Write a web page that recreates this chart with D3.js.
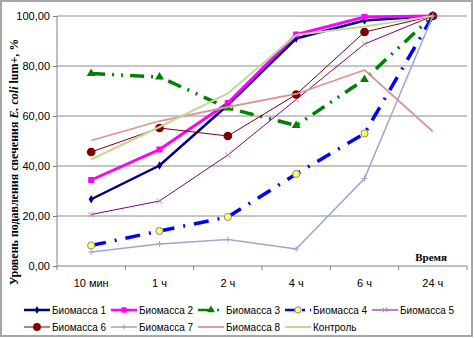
<!DOCTYPE html>
<html>
<head>
<meta charset="utf-8">
<script src="https://cdn.jsdelivr.net/npm/d3@7"></script>
<style>
  body { margin: 0; background: #fff; }
  svg { display: block; }
</style>
</head>
<body>
<div id="chart"></div>
<script>
// categories and series
var categories = ["10 мин", "1 ч", "2 ч", "4 ч", "6 ч", "24 ч"];
var yTicks = [0, 20, 40, 60, 80, 100];

var bio1 = [26.7, 40.2, 64.4, 91.0, 98.2, 100];
var bio2 = [34.4, 46.6, 65.2, 92.6, 99.6, 100];
var bio3 = [77.0, 75.6, 63.2, 56.2, 74.6, 100];
var bio4 = [8.2, 14.0, 19.6, 36.8, 53.0, 100];
var bio5 = [20.6, 26.0, 44.4, 66.6, 88.8, 100];
var bio6 = [45.6, 55.2, 52.0, 68.6, 93.6, 100];
var bio7 = [5.6, 8.8, 10.6, 6.8, 35.0, 100];
var bio8 = [50.2, 58.0, 63.6, 68.8, 78.4, 53.8];
var control = [42.6, 55.6, 69.0, 92.4, 95.8, 100];

var seriesNames = ["Биомасса 1", "Биомасса 2", "Биомасса 3", "Биомасса 4", "Биомасса 5",
                   "Биомасса 6", "Биомасса 7", "Биомасса 8", "Контроль"];

var W = 474, H = 338;
var svg = d3.select("#chart").append("svg")
    .attr("width", W)
    .attr("height", H);

// outer frame
svg.append("rect")
    .attr("x", 1).attr("y", 1)
    .attr("width", W - 3).attr("height", H - 3)
    .attr("fill", "#fff")
    .attr("stroke", "#a6a6a6")
    .attr("stroke-width", 2);

var plot = {left: 57, right: 467, top: 16, bottom: 266};

var x = d3.scaleBand().domain(categories).range([plot.left, plot.right]).padding(0);
var y = d3.scaleLinear().domain([0, 100]).range([plot.bottom, plot.top]);
function cx(c) { return x(c) + x.bandwidth() / 2; }

// gridlines
svg.append("g")
    .selectAll("line")
    .data(yTicks.filter(function(d){ return d > 0; }))
    .enter().append("line")
    .attr("x1", plot.left).attr("x2", plot.right)
    .attr("y1", function(d){ return y(d); })
    .attr("y2", function(d){ return y(d); })
    .attr("stroke", "#8c8c8c")
    .attr("stroke-width", 1);

var fmt = function(d) { return d3.format(".2f")(d).replace(".", ","); };

var yAxis = d3.axisLeft(y).tickValues(yTicks).tickFormat(fmt).tickSize(4).tickPadding(3);
var gy = svg.append("g")
    .attr("transform", "translate(" + plot.left + ",0)")
    .call(yAxis);
gy.select(".domain").attr("stroke", "#808080").attr("d", "M0," + plot.top + "V" + plot.bottom);
gy.selectAll(".tick line").attr("stroke", "#808080");
gy.selectAll("text").attr("font-family", "Liberation Sans, Arial, sans-serif").attr("font-size", 11).attr("fill", "#000");

// x axis: ticks between categories
var gx = svg.append("g")
    .attr("transform", "translate(0," + plot.bottom + ")");
gx.append("line")
    .attr("x1", plot.left).attr("x2", plot.right)
    .attr("stroke", "#808080");
var bounds = categories.map(function(c){ return x(c); }).concat([plot.right]);
gx.selectAll(".tk").data(bounds).enter().append("line")
    .attr("class", "tk")
    .attr("x1", function(d){ return d; }).attr("x2", function(d){ return d; })
    .attr("y1", 0).attr("y2", 4)
    .attr("stroke", "#808080");
gx.selectAll(".lab").data(categories).enter().append("text")
    .attr("class", "lab")
    .attr("x", function(d){ return cx(d); })
    .attr("y", 21)
    .attr("text-anchor", "middle")
    .attr("font-family", "Liberation Sans, Arial, sans-serif")
    .attr("font-size", 11)
    .text(function(d){ return d; });

// axis titles
svg.append("text")
    .attr("x", 447).attr("y", 261)
    .attr("text-anchor", "end")
    .attr("font-family", "Liberation Serif, Times New Roman, serif")
    .attr("font-weight", "bold")
    .attr("font-size", 11)
    .text("Время");

var yt = svg.append("text")
    .attr("transform", "translate(18,162) rotate(-90)")
    .attr("text-anchor", "middle")
    .attr("font-family", "Liberation Serif, Times New Roman, serif")
    .attr("font-weight", "bold")
    .attr("font-size", 12);
yt.append("tspan").text("Уровень подавления свечения ");
yt.append("tspan").attr("font-style", "italic").text("E. coli");
yt.append("tspan").text(" lum+, %");

// marker shapes
var crossX = { draw: function(ctx, size) { var r = Math.sqrt(size) / 2;
    ctx.moveTo(-r, -r); ctx.lineTo(r, r); ctx.moveTo(r, -r); ctx.lineTo(-r, r); } };
var plus = { draw: function(ctx, size) { var r = Math.sqrt(size) / 2;
    ctx.moveTo(-r, 0); ctx.lineTo(r, 0); ctx.moveTo(0, -r); ctx.lineTo(0, r); } };

var styles = [
  {data: bio1, color: "#000080", width: 2.5, dash: null, sym: d3.symbolDiamond, size: 22, fill: "#000080", stroke: "none"},
  {data: bio2, color: "#ff00ff", width: 3, dash: null, sym: d3.symbolSquare, size: 36, fill: "#ff00ff", stroke: "none"},
  {data: bio3, color: "#008000", width: 3.5, dash: "14,7,2,7,2,7", sym: d3.symbolTriangle, size: 34, fill: "#008000", stroke: "none"},
  {data: bio4, color: "#0000ff", width: 3.5, dash: "15,9,2,9", sym: d3.symbolCircle, size: 40, fill: "#ffff66", stroke: "#888888"},
  {data: bio5, color: "#800080", width: 1, dash: null, sym: crossX, size: 30, fill: "none", stroke: "#cc77cc"},
  {data: bio6, color: "#800000", width: 1, dash: null, sym: d3.symbolCircle, size: 60, fill: "#800000", stroke: "none"},
  {data: bio7, color: "#99a8cc", width: 1.5, dash: null, sym: plus, size: 36, fill: "none", stroke: "#99a8cc"},
  {data: bio8, color: "#d99694", width: 1.8, dash: null, sym: null},
  {data: control, color: "#c3d69b", width: 2, dash: null, sym: null}
];

var line = d3.line()
    .x(function(d, i){ return cx(categories[i]); })
    .y(function(d){ return y(d); });

styles.forEach(function(s) {
  svg.append("path")
      .datum(s.data)
      .attr("fill", "none")
      .attr("stroke", s.color)
      .attr("stroke-width", s.width)
      .attr("stroke-dasharray", s.dash)
      .attr("d", line);
  if (s.sym) {
    svg.append("g").selectAll("path")
        .data(s.data)
        .enter().append("path")
        .attr("transform", function(d, i){ return "translate(" + cx(categories[i]) + "," + y(d) + ")"; })
        .attr("d", d3.symbol().type(s.sym).size(s.size))
        .attr("fill", s.fill)
        .attr("stroke", s.stroke)
        .attr("stroke-width", 1);
  }
});

// legend
var legX = [24, 111, 198, 285, 372];
var legY = [310, 327];
styles.forEach(function(s, i) {
  var row = i < 5 ? 0 : 1, col = i < 5 ? i : i - 5;
  var g = svg.append("g").attr("transform", "translate(" + legX[col] + "," + legY[row] + ")");
  g.append("line")
      .attr("x1", 0).attr("x2", 26)
      .attr("stroke", s.color)
      .attr("stroke-width", Math.min(s.width, 2.5))
      .attr("stroke-dasharray", s.dash ? (i === 2 ? "14,5,2,5" : "12,5,3,5") : null);
  if (s.sym) {
    g.append("path")
        .attr("transform", "translate(13,0)")
        .attr("d", d3.symbol().type(s.sym).size(s.size * 0.8))
        .attr("fill", s.fill)
        .attr("stroke", s.stroke);
  }
  g.append("text")
      .attr("x", 28).attr("y", 3.5)
      .attr("font-family", "Liberation Sans, Arial, sans-serif")
      .attr("font-size", 10)
      .text(seriesNames[i]);
});
</script>
</body>
</html>
